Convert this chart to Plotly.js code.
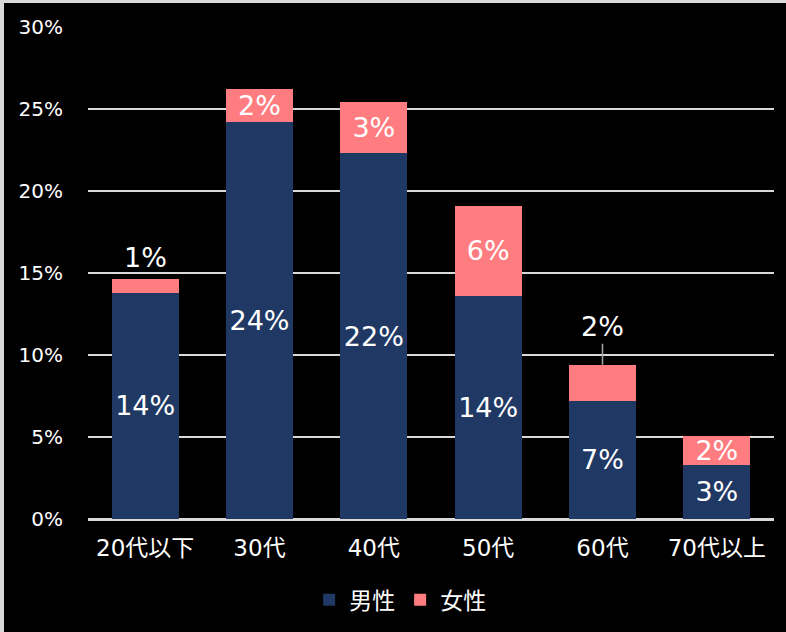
<!DOCTYPE html>
<html>
<head>
<meta charset="utf-8">
<script src="https://cdn.plot.ly/plotly-3.0.1.min.js"></script>
<style>
  html, body { margin: 0; padding: 0; background: #d9d9d9; width: 786px; height: 632px; overflow: hidden; }
  #chart { position: absolute; left: 4px; top: 3px; width: 782px; height: 629px; background: #000; }
</style>
</head>
<body>
<div id="chart"></div>
<script>
// Data (percent)
const categories = ['20代以下', '30代', '40代', '50代', '60代', '70代以上'];
const male = [13.8, 24.2, 22.3, 13.6, 7.2, 3.3];
const female = [0.85, 2.0, 3.1, 5.5, 2.2, 1.75];
const seriesNames = ['男性', '女性'];
const yTicks = [0, 5, 10, 15, 20, 25, 30];
// which female labels are drawn outside the bar (with offset in px)
const femaleOutside = [true, false, false, false, true, false];
const femaleOutsideOffset = [21, 0, 0, 0, 38, 0];
const femaleOutsideLine = [false, false, false, false, true, false];

const FONT = '"DejaVu Sans", "Noto Sans CJK JP", sans-serif';
const NAVY = '#203864';
const PINK = '#FF7C80';
const LABEL_SIZE = 27;

const traceMale = {
  type: 'bar', name: seriesNames[0], x: categories, y: male,
  marker: { color: NAVY },
  texttemplate: '%{y:.0f}%', textposition: 'inside', insidetextanchor: 'middle',
  textangle: 0, constraintext: 'none',
  textfont: { family: FONT, size: LABEL_SIZE, color: '#ffffff' },
  hoverinfo: 'skip'
};
const traceFemale = {
  type: 'bar', name: seriesNames[1], x: categories, y: female,
  marker: { color: PINK },
  texttemplate: '%{y:.0f}%',
  textposition: femaleOutside.map(o => o ? 'none' : 'inside'),
  insidetextanchor: 'middle', textangle: 0, constraintext: 'none',
  textfont: { family: FONT, size: LABEL_SIZE, color: '#ffffff' },
  hoverinfo: 'skip'
};

const annotations = [];
categories.forEach((c, i) => {
  if (!femaleOutside[i]) return;
  const total = male[i] + female[i];
  const a = {
    x: c, y: total, xref: 'x', yref: 'y',
    text: Math.round(female[i]) + '%',
    font: { family: FONT, size: LABEL_SIZE, color: '#ffffff' },
    showarrow: femaleOutsideLine[i]
  };
  if (femaleOutsideLine[i]) {
    Object.assign(a, { ax: 0, ay: -femaleOutsideOffset[i], arrowhead: 0, arrowwidth: 1.5, arrowcolor: '#a6a6a6', standoff: 0 });
  } else {
    Object.assign(a, { yanchor: 'middle', yshift: femaleOutsideOffset[i] });
  }
  annotations.push(a);
});

const layout = {
  width: 782, height: 629,
  paper_bgcolor: '#000000', plot_bgcolor: '#000000',
  barmode: 'stack', bargap: 0.415,
  margin: { l: 84, r: 12, t: 24, b: 112 },
  font: { family: FONT, color: '#ffffff' },
  xaxis: {
    showgrid: false, showline: true, linecolor: '#d9d9d9', linewidth: 1.5,
    ticks: 'outside', ticklen: 8, tickcolor: 'rgba(0,0,0,0)',
    tickfont: { family: FONT, size: 23, color: '#ffffff' }
  },
  yaxis: {
    range: [0, 30], tickvals: yTicks, ticktext: yTicks.map(v => v + '%'),
    showgrid: true, gridcolor: '#d9d9d9', gridwidth: 1.5,
    zeroline: true, zerolinecolor: '#d9d9d9', zerolinewidth: 1.5,
    showline: false,
    ticks: 'outside', ticklen: 20, tickcolor: 'rgba(0,0,0,0)',
    tickfont: { family: FONT, size: 20, color: '#ffffff' }
  },
  legend: {
    orientation: 'h', x: 0.455, xanchor: 'center', y: -0.162, yanchor: 'middle',
    font: { family: FONT, size: 23, color: '#ffffff' },
    bgcolor: 'rgba(0,0,0,0)', traceorder: 'normal'
  },
  annotations: annotations,
  showlegend: true
};

Plotly.newPlot('chart', [traceMale, traceFemale], layout, { displayModeBar: false, staticPlot: true });
</script>
</body>
</html>
